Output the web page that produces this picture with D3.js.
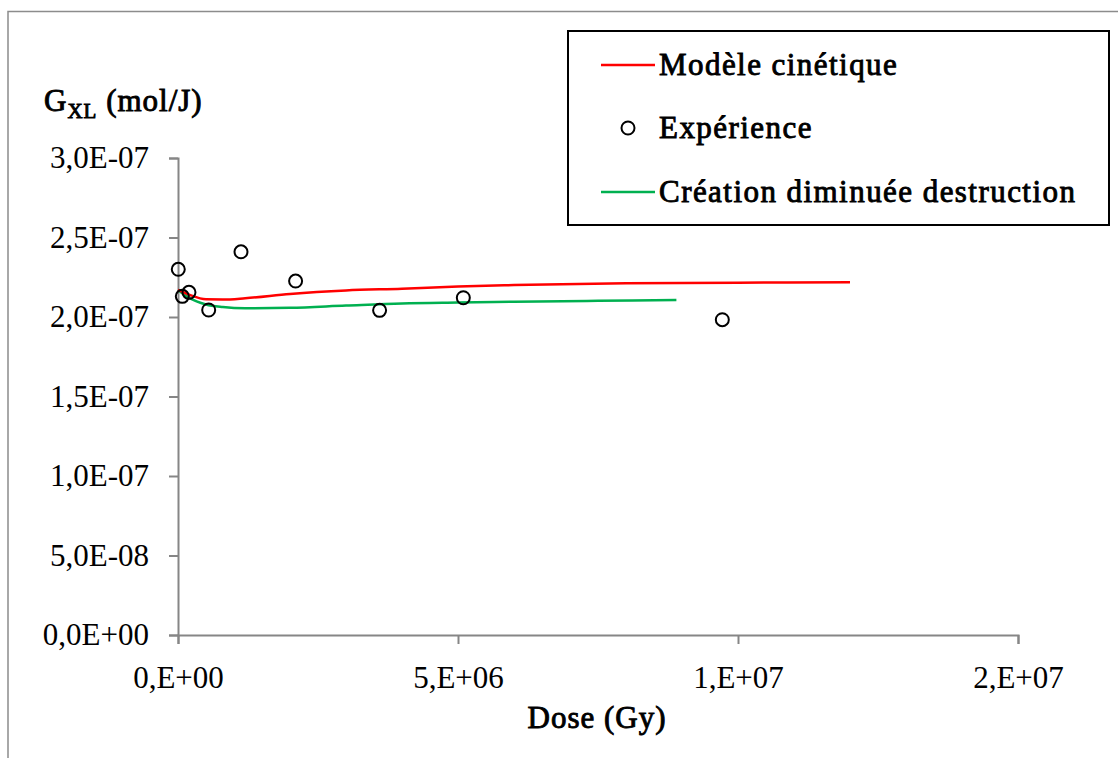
<!DOCTYPE html>
<html>
<head>
<meta charset="utf-8">
<script src="https://cdn.jsdelivr.net/npm/d3@7"></script>
<style>
  body { margin: 0; background: #fff; }
  svg text { font-family: 'Liberation Serif', serif; fill: #000; }
</style>
</head>
<body>
<div id="chart"></div>
<script>
// Valeurs
const expDose = [5e3, 7.7e4, 1.96e5, 5.48e5, 1.125e6, 2.10e6, 3.60e6, 5.095e6, 9.72e6];
const expG = [2.30e-7, 2.13e-7, 2.155e-7, 2.044e-7, 2.41e-7, 2.226e-7, 2.042e-7, 2.121e-7, 1.983e-7];

const modeleDose = [0, 2e5, 5e5, 8e5, 1.2e6, 2e6, 3e6, 4e6, 5e6, 6e6, 8e6, 1e7, 1.2e7];
const modeleG = [2.17e-7, 2.14e-7, 2.111e-7, 2.11e-7, 2.118e-7, 2.145e-7, 2.167e-7, 2.178e-7, 2.192e-7, 2.201e-7, 2.212e-7, 2.216e-7, 2.218e-7];

const creationDose = [0, 2e5, 5e5, 8e5, 1.2e6, 2e6, 3e6, 4e6, 5e6, 6e6, 7.5e6, 8.9e6];
const creationG = [2.17e-7, 2.12e-7, 2.079e-7, 2.063e-7, 2.055e-7, 2.058e-7, 2.072e-7, 2.085e-7, 2.091e-7, 2.096e-7, 2.102e-7, 2.107e-7];

const xTicks = [0, 5e6, 1e7, 1.5e7];
const yTicks = [0, 5e-8, 1e-7, 1.5e-7, 2e-7, 2.5e-7, 3e-7];

const legendLabels = ["Modèle cinétique", "Expérience", "Création diminuée destruction"];

const W = 1118, H = 758;
const FONT = "'Liberation Serif', serif";
const svg = d3.select("#chart").append("svg")
    .attr("width", W)
    .attr("height", H)
    .style("font-family", FONT);

// le gras serif n'est pas dispo -> gras simulé avec un contour
function fakeBold(sel, spacing) {
    sel.attr("font-weight", "normal")
        .attr("stroke", "#000")
        .attr("stroke-width", 0.9)
        .attr("letter-spacing", spacing);
}

// cadre extérieur (coupé par la fenêtre)
svg.append("rect")
    .attr("x", 8).attr("y", 11.5)
    .attr("width", 1300).attr("height", 900)
    .attr("fill", "none")
    .attr("stroke", "#8c8c8c")
    .attr("stroke-width", 1.5);

const x = d3.scaleLinear().domain([0, 1.5e7]).range([178, 1018]);
const y = d3.scaleLinear().domain([0, 3e-7]).range([635, 158]);

// format type Excel : 3,0E-07 / 5,E+06
function sciFormat(v, dec) {
    const s = v.toExponential(dec);
    let [m, e] = s.split("e");
    const sign = e[0] === "-" ? "-" : "+";
    e = e.replace(/[+-]/, "").padStart(2, "0");
    if (dec === 0) m = m + ",";
    return m.replace(".", ",") + "E" + sign + e;
}

const axisColor = "#868686";

const yAxis = svg.append("g")
    .attr("transform", "translate(178,0)")
    .call(d3.axisLeft(y).tickValues(yTicks).tickSize(9).tickPadding(20).tickFormat(d => sciFormat(d, 1)));
const xAxis = svg.append("g")
    .attr("transform", "translate(0,635)")
    .call(d3.axisBottom(x).tickValues(xTicks).tickSize(9).tickPadding(16).tickFormat(d => sciFormat(d, 0)));

[xAxis, yAxis].forEach(a => {
    a.attr("font-family", null);
    a.select(".domain").attr("stroke", axisColor).attr("stroke-width", 2);
    a.selectAll(".tick line").attr("stroke", axisColor).attr("stroke-width", 2);
    a.selectAll(".tick text")
        .style("font-family", FONT)
        .attr("font-size", 31)
        .attr("fill", "#000");
});
xAxis.selectAll(".tick text").attr("dy", "0.9em");

// titres
const yTitle = svg.append("text")
    .attr("x", 44).attr("y", 111)
    .attr("font-size", 31)
    .call(fakeBold, 1);
yTitle.append("tspan").text("G");
yTitle.append("tspan").attr("font-size", 21).attr("dy", 7).text("XL");
yTitle.append("tspan").attr("dy", -7).text(" (mol/J)");

svg.append("text")
    .attr("x", 597).attr("y", 728)
    .attr("text-anchor", "middle")
    .attr("font-size", 31)
    .call(fakeBold, 1)
    .text("Dose (Gy)");

// courbes
const line = d3.line()
    .x(d => x(d[0]))
    .y(d => y(d[1]))
    .curve(d3.curveMonotoneX);

svg.append("path")
    .datum(d3.zip(creationDose, creationG))
    .attr("d", line)
    .attr("fill", "none")
    .attr("stroke", "#00B050")
    .attr("stroke-width", 2.5);

svg.append("path")
    .datum(d3.zip(modeleDose, modeleG))
    .attr("d", line)
    .attr("fill", "none")
    .attr("stroke", "#FF0000")
    .attr("stroke-width", 2.5);

svg.append("g")
    .selectAll("circle")
    .data(d3.zip(expDose, expG))
    .enter().append("circle")
    .attr("cx", d => x(d[0]))
    .attr("cy", d => y(d[1]))
    .attr("r", 6.5)
    .attr("fill", "none")
    .attr("stroke", "#000")
    .attr("stroke-width", 2);

// légende
const legend = svg.append("g");
legend.append("rect")
    .attr("x", 568).attr("y", 31)
    .attr("width", 541).attr("height", 194)
    .attr("fill", "#fff")
    .attr("stroke", "#000")
    .attr("stroke-width", 2);

const legendY = [65, 128, 192];
const legendColors = ["#FF0000", null, "#00B050"];
legendLabels.forEach((lab, i) => {
    if (legendColors[i]) {
        legend.append("line")
            .attr("x1", 601).attr("x2", 655)
            .attr("y1", legendY[i]).attr("y2", legendY[i])
            .attr("stroke", legendColors[i])
            .attr("stroke-width", 2.5);
    } else {
        legend.append("circle")
            .attr("cx", 628).attr("cy", legendY[i])
            .attr("r", 6.5)
            .attr("fill", "none")
            .attr("stroke", "#000")
            .attr("stroke-width", 2);
    }
    legend.append("text")
        .attr("x", 659).attr("y", legendY[i] + 10)
        .attr("font-size", 31)
        .call(fakeBold, 1.45)
        .text(lab);
});
</script>
</body>
</html>
